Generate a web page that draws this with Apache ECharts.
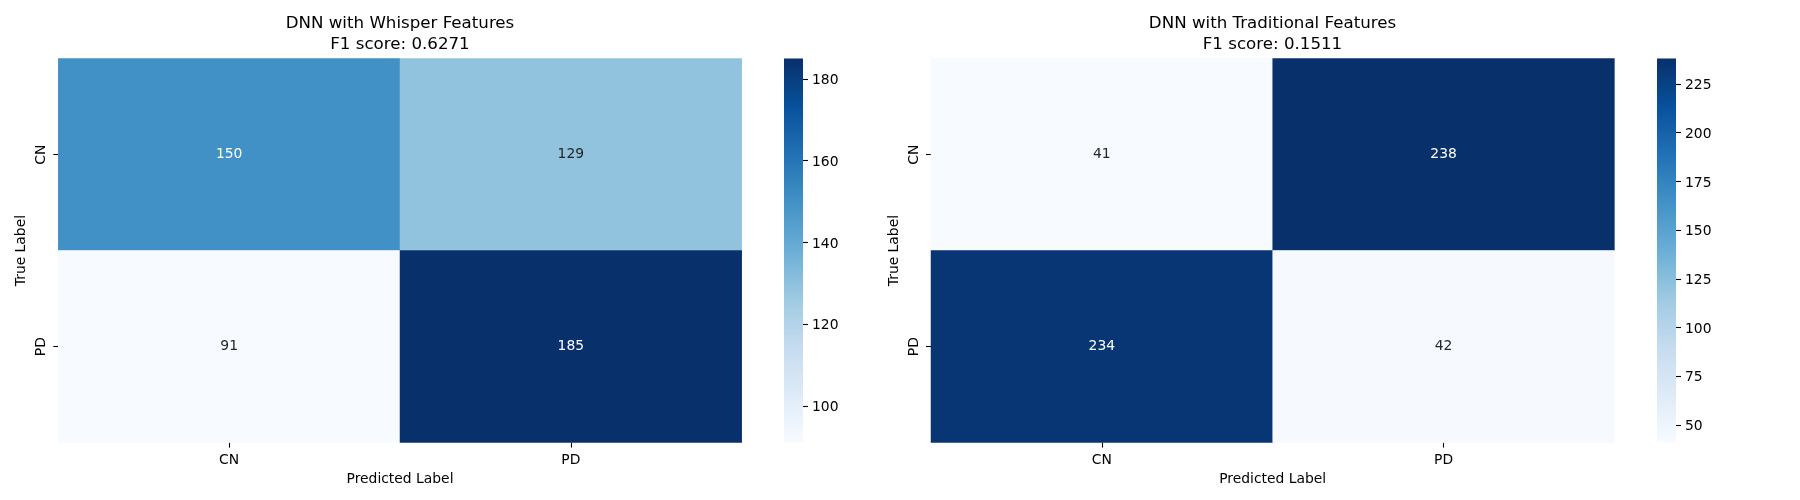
<!DOCTYPE html>
<html>
<head>
<meta charset="utf-8">
<style>html,body{margin:0;padding:0;background:#fff}#c{width:1800px;height:500px}</style>
<script src="https://cdn.jsdelivr.net/npm/echarts@6/dist/echarts.min.js"></script>
</head>
<body>
<div id="c"></div>
<script>
const labels = ['CN', 'PD'];
const whisperTitle = 'DNN with Whisper Features\nF1 score: 0.6271';
const traditionalTitle = 'DNN with Traditional Features\nF1 score: 0.1511';
const whisperMatrix = [[150, 129], [91, 185]];
const traditionalMatrix = [[41, 238], [234, 42]];
const whisperTicks = [100, 120, 140, 160, 180];
const traditionalTicks = [50, 75, 100, 125, 150, 175, 200, 225];
const xName = 'Predicted Label';
const yName = 'True Label';
const blues = ['#f7fbff','#deebf7','#c6dbef','#9ecae1','#6baed6','#4292c6','#2171b5','#08519c','#08306b'];

const FONT = 'DejaVu Sans';
const FS = 13.89;

function cells(matrix) {
  const flat = matrix.flat();
  const lo = Math.min(...flat), hi = Math.max(...flat);
  const out = [];
  matrix.forEach((row, y) => row.forEach((v, x) => {
    out.push({ value: [x, y, v], label: { color: (v - lo) / (hi - lo) > 0.55 ? '#ffffff' : '#262626' } });
  }));
  return out;
}
const rng = m => { const f = m.flat(); return [Math.min(...f), Math.max(...f)]; };

const panels = [
  { title: whisperTitle, matrix: whisperMatrix, ticks: whisperTicks, left: 58.3, width: 683.4, cbLeft: 784, cx: 400 },
  { title: traditionalTitle, matrix: traditionalMatrix, ticks: traditionalTicks, left: 931, width: 683.4, cbLeft: 1657, cx: 1272.5 }
];
const TOP = 58.6, H = 384, CBW = 19;

const gradientStops = blues.map((color, i) => ({ offset: i / (blues.length - 1), color }));

function renderColorbar(params, api) {
  const a = api.coord([api.value(0), api.value(3)]);
  const b = api.coord([api.value(2), api.value(1)]);
  return {
    type: 'rect',
    shape: { x: a[0], y: a[1], width: b[0] - a[0], height: b[1] - a[1] },
    style: { fill: new echarts.graphic.LinearGradient(0, 1, 0, 0, gradientStops) }
  };
}

const option = { animation: false, backgroundColor: '#fff', title: [], grid: [], xAxis: [], yAxis: [], visualMap: [], series: [] };
const barSeries = [];

panels.forEach((p, i) => {
  const [lo, hi] = rng(p.matrix);
  option.title.push({
    text: p.title, left: p.cx, top: 13.5, padding: 0, textAlign: 'center',
    textStyle: { fontFamily: FONT, fontSize: 16.67, fontWeight: 'normal', color: '#000', lineHeight: 20.5 }
  });
  option.grid.push({ left: p.left, top: TOP, width: p.width, height: H, outerBoundsMode: 'none', containLabel: false });
  option.grid.push({ left: p.cbLeft, top: TOP, width: CBW, height: H, outerBoundsMode: 'none', containLabel: false });
  const gi = option.grid.length - 2;
  const tick = { show: true, alignWithLabel: true, length: 5, lineStyle: { color: '#000', width: 1.1 } };
  option.xAxis.push({
    type: 'category', gridIndex: gi, data: labels, name: xName, nameLocation: 'middle', nameGap: 29.5,
    nameTextStyle: { fontFamily: FONT, fontSize: FS, color: '#000' },
    axisLine: { show: false, onZero: false }, axisTick: tick, splitLine: { show: false }, splitArea: { show: false },
    axisLabel: { fontFamily: FONT, fontSize: FS, color: '#000', margin: 10.5, interval: 0 }
  });
  option.yAxis.push({
    type: 'category', gridIndex: gi, data: labels, inverse: true, name: yName, nameLocation: 'middle', nameGap: 30,
    nameTextStyle: { fontFamily: FONT, fontSize: FS, color: '#000' },
    axisLine: { show: false, onZero: false }, axisTick: tick, splitLine: { show: false }, splitArea: { show: false },
    axisLabel: { fontFamily: FONT, fontSize: FS, color: '#000', rotate: 90, margin: 9.5, interval: 0 }
  });
  option.xAxis.push({ type: 'value', gridIndex: gi + 1, show: false, min: 0, max: 1 });
  option.yAxis.push({
    type: 'value', gridIndex: gi + 1, position: 'right', min: lo, max: hi,
    axisLine: { show: false, onZero: false }, splitLine: { show: false },
    axisTick: { show: true, length: 5, customValues: p.ticks, lineStyle: { color: '#000', width: 1.1 } },
    axisLabel: {
      show: true, margin: 9, customValues: p.ticks,
      formatter: v => '{t|' + v + '}',
      rich: { t: { fontFamily: FONT, fontSize: FS, color: '#000', padding: [3, 0, 0, 0] } }
    }
  });
  option.visualMap.push({
    type: 'continuous', show: false, seriesIndex: i, min: lo, max: hi,
    inRange: { color: blues }, dimension: 2
  });
  option.series.push({
    type: 'heatmap', xAxisIndex: gi, yAxisIndex: gi, data: cells(p.matrix), silent: true,
    label: { show: true, fontFamily: FONT, fontSize: FS, formatter: o => String(o.value[2]) },
    itemStyle: { borderWidth: 0 }, emphasis: { disabled: true }
  });
  barSeries.push({
    type: 'custom', xAxisIndex: gi + 1, yAxisIndex: gi + 1, silent: true, clip: false,
    data: [[0, lo, 1, hi]], encode: { x: [0, 2], y: [1, 3] }, renderItem: renderColorbar
  });
});
option.series.push(...barSeries);

echarts.init(document.getElementById('c'), null, { renderer: 'canvas' }).setOption(option);
</script>
</body>
</html>
